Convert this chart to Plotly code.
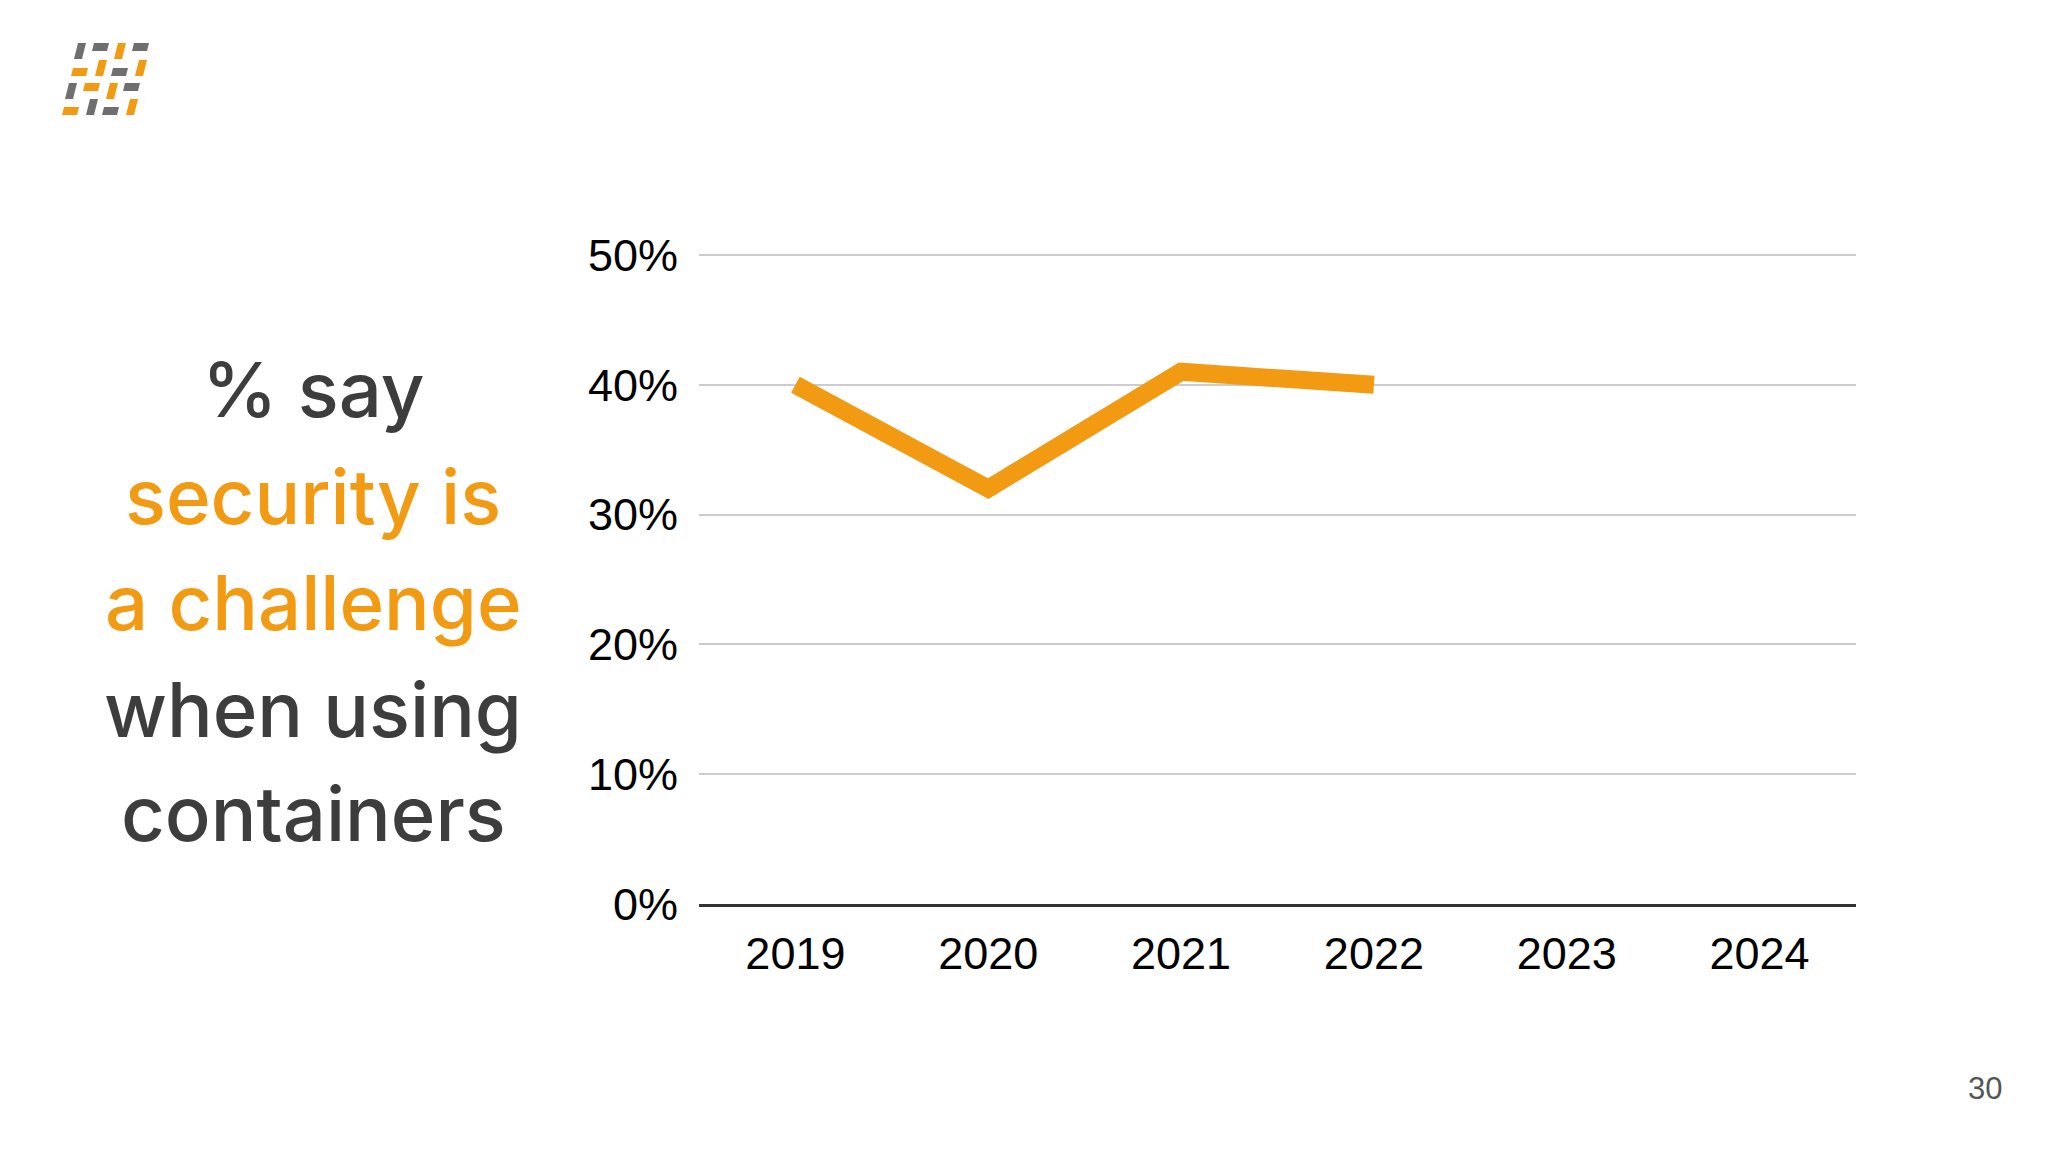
import plotly.graph_objects as go

# ---- data ----
years = ["2019", "2020", "2021", "2022", "2023", "2024"]
security_challenge = [0.40, 0.32, 0.41, 0.40, None, None]
y_tick_vals = [0, 0.1, 0.2, 0.3, 0.4, 0.5]
y_tick_text = ["0%", "10%", "20%", "30%", "40%", "50%"]

title_lines = ["% say", "security is", "a challenge", "when using", "containers"]
title_colors = ["#3d3d3d", "#F29A12", "#F29A12", "#3d3d3d", "#3d3d3d"]
page_number = "30"

ORANGE = "#F29A12"
GRAY = "#6f6f6f"

OFF = 8  # page body margin
W, H = 2048, 1152
L, R, T, B = 699, 1856, 253, 904  # plot area in screen pixels

def px(x):
    return (x - L) / (R - L)

def py(y):
    return (B - y) / (B - T)

fig = go.Figure()
fig.add_trace(go.Scatter(
    x=years, y=security_challenge, mode="lines",
    line=dict(color=ORANGE, width=18),
    connectgaps=False, hoverinfo="skip", showlegend=False,
))

# slide text
title_y = [389, 496, 602, 709, 813]
annotations = []
for txt, col, yy in zip(title_lines, title_colors, title_y):
    annotations.append(dict(
        text=txt, x=px(313), y=py(yy), xref="paper", yref="paper",
        xanchor="center", yanchor="middle", showarrow=False,
        font=dict(family="Inter", size=76, color=col, weight=500),
    ))
annotations.append(dict(
    text=page_number, x=px(1985), y=py(1088), xref="paper", yref="paper",
    xanchor="center", yanchor="middle", showarrow=False,
    font=dict(family="Liberation Sans, Arial", size=31, color="#555555"),
))

# logo (decoration)
logo = [
    (74, 43, 8, 16, GRAY), (92, 43, 15, 8, GRAY), (114, 43, 8, 16, ORANGE), (132, 43, 15, 8, GRAY),
    (71, 68, 15, 8, ORANGE), (95, 60, 8, 16, ORANGE), (111, 68, 15, 8, GRAY), (135, 60, 8, 16, ORANGE),
    (65, 83, 8, 16, GRAY), (83, 83, 15, 8, ORANGE), (106, 83, 8, 16, ORANGE), (123, 83, 15, 8, GRAY),
    (62, 107, 15, 8, ORANGE), (86, 99, 8, 16, GRAY), (102, 107, 15, 8, GRAY), (126, 99, 8, 16, ORANGE),
]
shapes = []
s = 0.25
for x0, y0, w, h, c in logo:
    y1 = y0 + h
    pts = [(x0, y1), (x0 + w, y1), (x0 + w + s * h, y0), (x0 + s * h, y0)]
    path = "M " + " L ".join(f"{px(a):.5f},{py(b):.5f}" for a, b in pts) + " Z"
    shapes.append(dict(type="path", path=path, xref="paper", yref="paper",
                       fillcolor=c, line=dict(width=0), layer="above"))

fig.update_layout(
    width=W, height=H,
    margin=dict(l=L - OFF, r=W - R + OFF, t=T - OFF, b=H - B + OFF, autoexpand=False),
    paper_bgcolor="white", plot_bgcolor="white",
    font=dict(family="Liberation Sans, Arial", size=45, color="#000000"),
    annotations=annotations, shapes=shapes,
    xaxis=dict(
        type="category", categoryorder="array", categoryarray=years,
        range=[-0.5, 5.5], showgrid=False, showline=True,
        linecolor="#333333", linewidth=2.5, ticks="",
        tickfont=dict(size=45, color="#000000"), ticklabelstandoff=8,
        fixedrange=True,
    ),
    yaxis=dict(
        range=[0, 0.5015], tickvals=y_tick_vals, ticktext=y_tick_text,
        showgrid=True, gridcolor="#cccccc", gridwidth=2,
        zeroline=False, showline=False, ticks="",
        tickfont=dict(size=45, color="#000000"), ticklabelstandoff=20,
        fixedrange=True,
    ),
)

fig.write_html("out.html")
